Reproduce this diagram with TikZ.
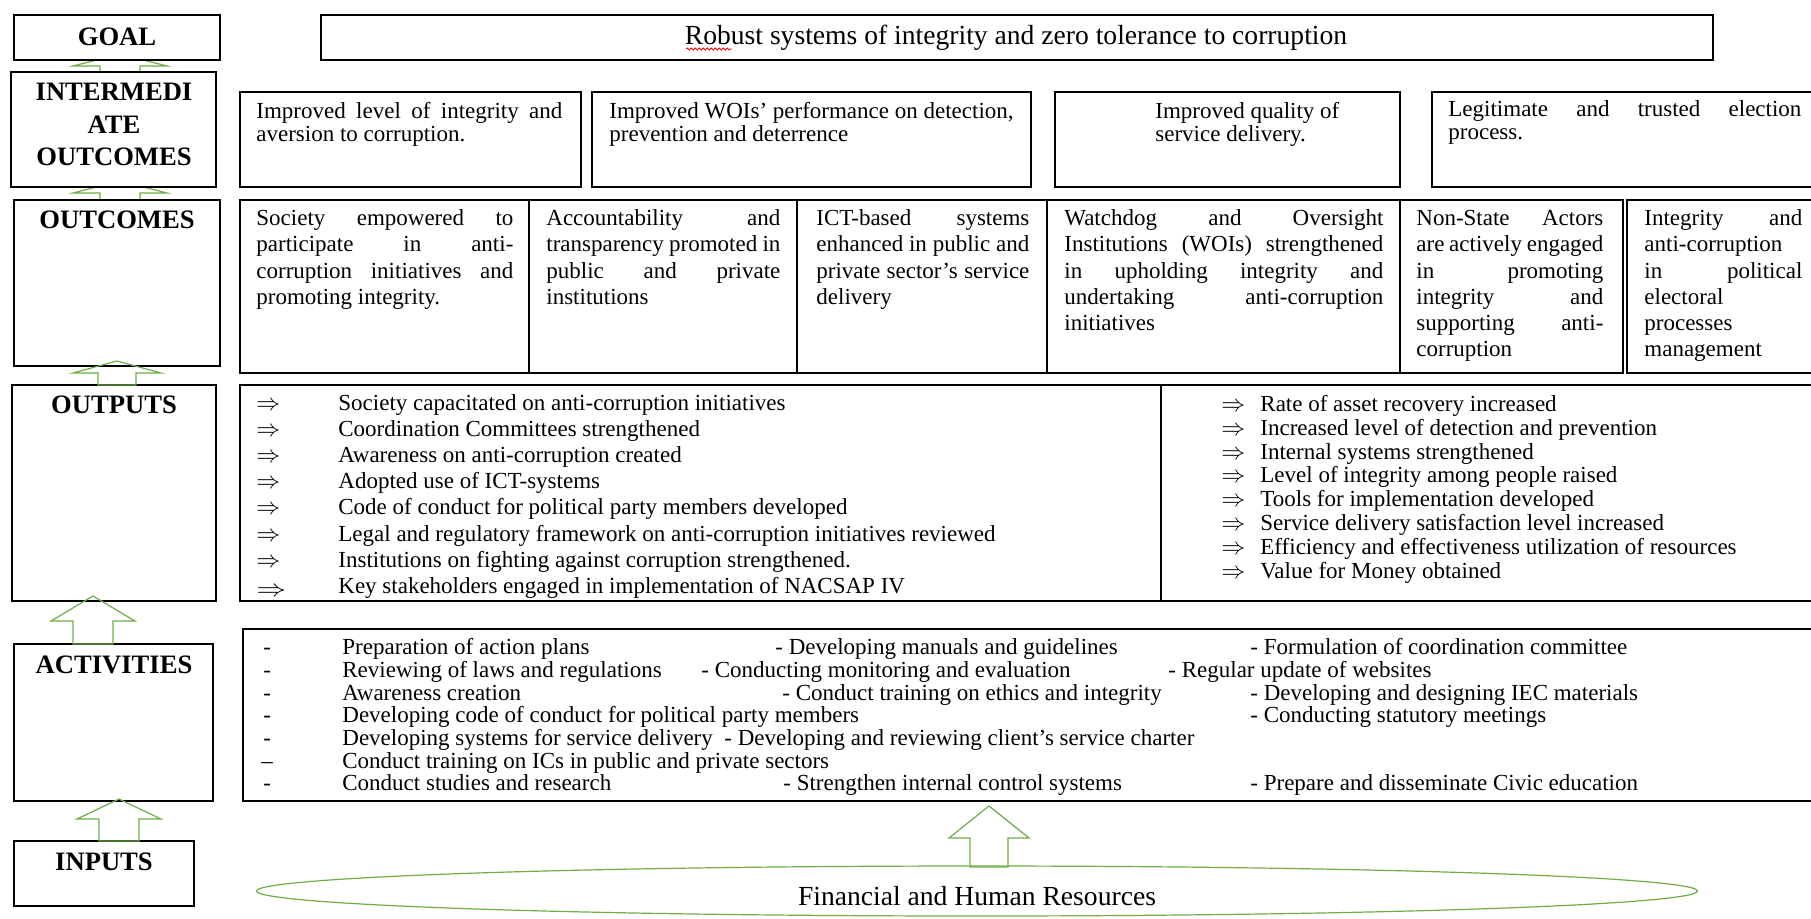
\documentclass[tikz,border=0pt]{standalone}
\usepackage{fontspec}
\setmainfont{Liberation Serif}
\usepackage{graphicx}
\usetikzlibrary{shapes.geometric,decorations.pathmorphing}
\newdimen\upx \upx=0.5pt
\newcounter{tln}
\definecolor{arrgreen}{HTML}{70AD47}
\tikzset{
  box/.style={draw=black, line width=0.7pt, fill=white, anchor=north west, inner sep=0pt, outer sep=0pt},
  lab/.style={font=\fontsize{13.3}{15}\selectfont\bfseries, anchor=base, inner sep=0pt},
  txt/.style={font=\fontsize{11.5}{13}\selectfont, anchor=base west, inner sep=0pt},
  bigtxt/.style={font=\fontsize{13.8}{16}\selectfont, anchor=base, inner sep=0pt},
  blk/.style={draw=arrgreen, line width=0.6pt, line join=miter},
  divline/.style={draw=black, line width=0.7pt},
}
% box: name, x1, y1, x2, y2 (pixels)
\newcommand{\bx}[5]{\node[box, minimum width=\dimexpr\upx*(#4-#2)\relax, minimum height=\dimexpr\upx*(#5-#3)\relax] (#1) at (#2,#3) {};}
% plain text line
\newcommand{\txl}[3]{\stepcounter{tln}\edef\curname{t\arabic{tln}}\node[txt] (\curname) at (#1,#2) {#3};}
% justified text line: x, y, width, text
\newcommand{\jsl}[4]{\stepcounter{tln}\edef\curname{t\arabic{tln}}\node[txt] (\curname) at (#1,#2) {\makebox[\dimexpr\upx*#3\relax][s]{#4}};}
% block arrow: [opts]{cx}{tip}{base}{bottom}{head half}{shaft half}
\newcommand{\blkarrow}[7][]{\draw[blk,#1] (#2,#3) -- ({#2+#6},#4) -- ({#2+#7},#4) -- ({#2+#7},#5) -- ({#2-#7},#5) -- ({#2-#7},#4) -- ({#2-#6},#4) -- cycle;}
\begin{document}
\begin{tikzpicture}[x=0.5pt,y=-0.5pt]
\fill[white] (0,0) rectangle (1811,918);
\useasboundingbox (0,0) rectangle (1811,918);

% arrows hidden partly behind boxes
\blkarrow[fill=white]{120}{54}{66}{72}{47}{20}
\blkarrow[fill=white]{120}{181}{193}{200}{47}{20}

% boxes
\bx{goal}{14}{15}{220}{60}
\bx{goaltext}{321}{15}{1713}{60}
\bx{iolab}{11}{72}{216}{187}
\bx{ioa}{240}{92}{581}{187}
\bx{iob}{592}{92}{1031}{187}
\bx{ioc}{1055}{92}{1400}{187}
\bx{iod}{1432}{92}{1815}{187}
\bx{outclab}{14}{200}{220}{366}
\bx{outctab}{240}{200}{1623}{373}
\bx{outcf}{1627}{200}{1815}{373}
\bx{outplab}{12}{385}{216}{601}
\bx{outpbox}{240}{385}{1815}{601}
\bx{actlab}{14}{644}{213}{801}
\bx{actbox}{243}{629}{1815}{801}
\bx{inplab}{14}{841}{194}{906}

\draw[divline] (529,200) -- (529,373);
\draw[divline] (797,200) -- (797,373);
\draw[divline] (1047,200) -- (1047,373);
\draw[divline] (1400,200) -- (1400,373);
\draw[divline] (1161,385) -- (1161,601);

% arrows drawn over boxes
\blkarrow{117}{361}{373}{385}{44}{19}
\blkarrow{93}{596}{621}{644}{42}{20}
\blkarrow{119}{799}{819}{841}{42}{20}
\blkarrow{989}{806}{838}{867}{40}{19}

% resources ellipse
\node[ellipse, draw=arrgreen, line width=0.6pt, minimum width=1441\upx, minimum height=50\upx, inner sep=0pt] (res) at (977,891) {};
\node[bigtxt] (restxt) at (977,905) {Financial and Human Resources};

% labels
\node[lab] (goallbl) at (117,45) {GOAL};
\node[lab] (iolbla) at (114,100) {INTERMEDI};
\node[lab] (iolblb) at (114,133) {ATE};
\node[lab] (iolblc) at (114,165) {OUTCOMES};
\node[lab] (outclbl) at (117,228) {OUTCOMES};
\node[lab] (outplbl) at (114,413) {OUTPUTS};
\node[lab] (actlbl) at (114,673) {ACTIVITIES};
\node[lab] (inplbl) at (104,870) {INPUTS};

% goal
\node[bigtxt] (goaltxt) at (1016,44) {Robust systems of integrity and zero tolerance to corruption};
\draw[red, line width=0.4pt, decorate, decoration={snake, amplitude=0.5pt, segment length=2pt}] (686,49) -- (732,49);

% intermediate outcomes
\jsl{256}{118}{306}{Improved level of integrity and}
\txl{256}{141}{aversion to corruption.}
\txl{609}{118}{Improved WOIs’ performance on detection,}
\txl{609}{141}{prevention and deterrence}
\txl{1155}{118}{Improved quality of}
\txl{1155}{141}{service delivery.}
\jsl{1448}{116}{353}{Legitimate and trusted election}
\txl{1448}{139}{process.}

% outcomes
\jsl{256}{225}{257}{Society empowered to}
\jsl{256}{251}{257}{participate in anti-}
\jsl{256}{278}{257}{corruption initiatives and}
\txl{256}{304}{promoting integrity.}
\jsl{546}{225}{234}{Accountability and}
\jsl{546}{251}{234}{transparency promoted in}
\jsl{546}{278}{234}{public and private}
\txl{546}{304}{institutions}
\jsl{816}{225}{213}{ICT-based systems}
\jsl{816}{251}{213}{enhanced in public and}
\jsl{816}{278}{213}{private sector’s service}
\txl{816}{304}{delivery}
\jsl{1064}{225}{319}{Watchdog and Oversight}
\jsl{1064}{251}{319}{Institutions (WOIs) strengthened}
\jsl{1064}{278}{319}{in upholding integrity and}
\jsl{1064}{304}{319}{undertaking anti-corruption}
\txl{1064}{330}{initiatives}
\jsl{1416}{225}{187}{Non-State Actors}
\jsl{1416}{251}{187}{are actively engaged}
\jsl{1416}{278}{187}{in promoting}
\jsl{1416}{304}{187}{integrity and}
\jsl{1416}{330}{187}{supporting anti-}
\txl{1416}{356}{corruption}
\jsl{1644}{225}{158}{Integrity and}
\txl{1644}{251}{anti-corruption}
\jsl{1644}{278}{158}{in political}
\txl{1644}{304}{electoral}
\txl{1644}{330}{processes}
\txl{1644}{356}{management}

% outputs left
\txl{256}{410}{$\Rightarrow$}\txl{338}{410}{Society capacitated on anti-corruption initiatives}
\txl{256}{436}{$\Rightarrow$}\txl{338}{436}{Coordination Committees strengthened}
\txl{256}{462}{$\Rightarrow$}\txl{338}{462}{Awareness on anti-corruption created}
\txl{256}{488}{$\Rightarrow$}\txl{338}{488}{Adopted use of ICT-systems}
\txl{256}{514}{$\Rightarrow$}\txl{338}{514}{Code of conduct for political party members developed}
\txl{256}{541}{$\Rightarrow$}\txl{338}{541}{Legal and regulatory framework on anti-corruption initiatives reviewed}
\txl{256}{567}{$\Rightarrow$}\txl{338}{567}{Institutions on fighting against corruption strengthened.}
\txl{256}{596}{\scalebox{1.25}[1]{$\Rightarrow$}}\txl{338}{593}{Key stakeholders engaged in implementation of NACSAP IV}
% outputs right
\txl{1221}{411}{$\Rightarrow$}\txl{1260}{411}{Rate of asset recovery increased}
\txl{1221}{435}{$\Rightarrow$}\txl{1260}{435}{Increased level of detection and prevention}
\txl{1221}{459}{$\Rightarrow$}\txl{1260}{459}{Internal systems strengthened}
\txl{1221}{482}{$\Rightarrow$}\txl{1260}{482}{Level of integrity among people raised}
\txl{1221}{506}{$\Rightarrow$}\txl{1260}{506}{Tools for implementation developed}
\txl{1221}{530}{$\Rightarrow$}\txl{1260}{530}{Service delivery satisfaction level increased}
\txl{1221}{554}{$\Rightarrow$}\txl{1260}{554}{Efficiency and effectiveness utilization of resources}
\txl{1221}{578}{$\Rightarrow$}\txl{1260}{578}{Value for Money obtained}

% activities
\txl{263}{654}{-}\txl{342}{654}{Preparation of action plans}\txl{775}{654}{- Developing manuals and guidelines}\txl{1250}{654}{- Formulation of coordination committee}
\txl{263}{677}{-}\txl{342}{677}{Reviewing of laws and regulations}\txl{701}{677}{- Conducting monitoring and evaluation}\txl{1168}{677}{- Regular update of websites}
\txl{263}{700}{-}\txl{342}{700}{Awareness creation}\txl{782}{700}{- Conduct training on ethics and integrity}\txl{1250}{700}{- Developing and designing IEC materials}
\txl{263}{722}{-}\txl{342}{722}{Developing code of conduct for political party members}\txl{1250}{722}{- Conducting statutory meetings}
\txl{263}{745}{-}\txl{342}{745}{Developing systems for service delivery}\txl{724}{745}{- Developing and reviewing client’s service charter}
\txl{261}{768}{–}\txl{342}{768}{Conduct training on ICs in public and private sectors}
\txl{263}{790}{-}\txl{342}{790}{Conduct studies and research}\txl{783}{790}{- Strengthen internal control systems}\txl{1250}{790}{- Prepare and disseminate Civic education}
\end{tikzpicture}
\end{document}
